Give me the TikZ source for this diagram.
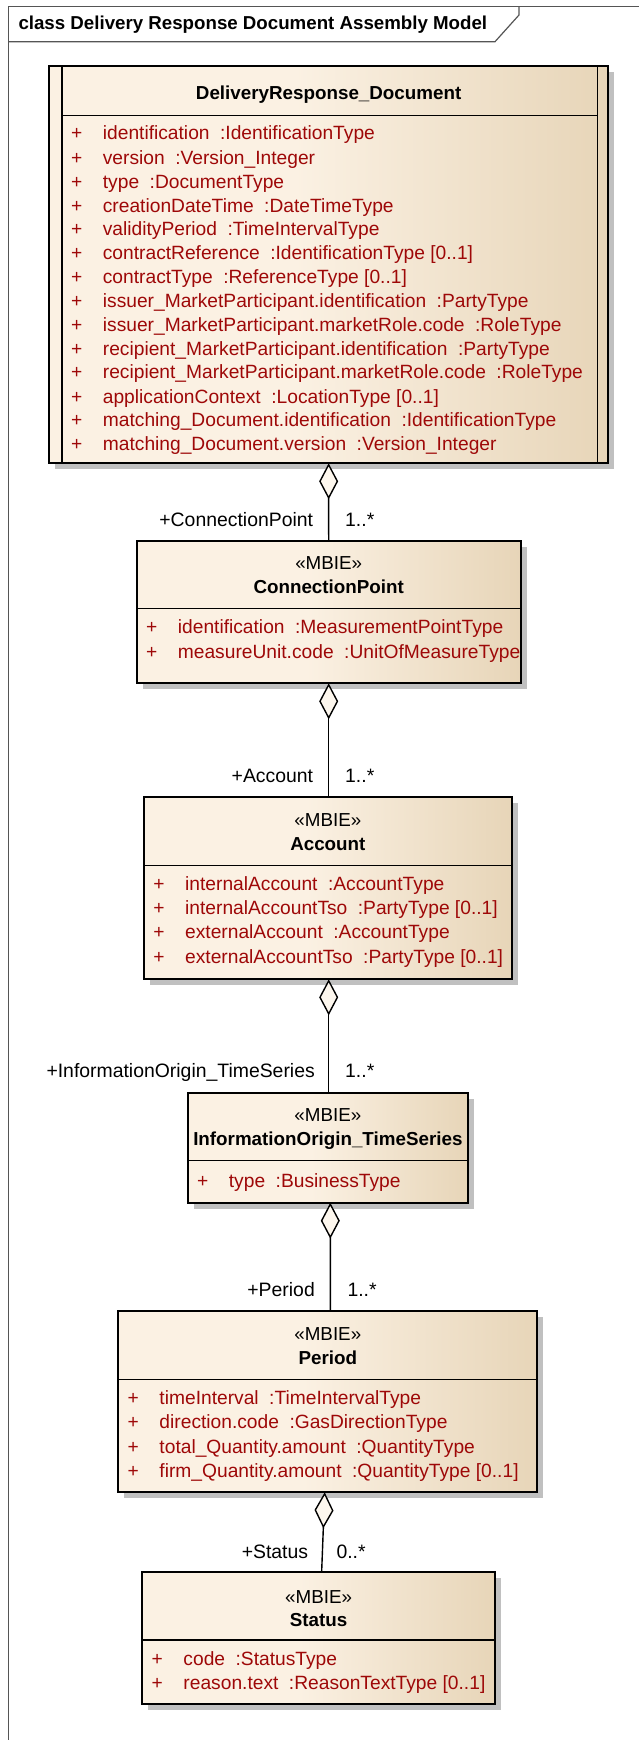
\documentclass[tikz,border=0pt]{standalone}
\usepackage{fontspec}
\setmainfont{Liberation Sans}
\usetikzlibrary{arrows.meta,shadows}

\definecolor{clsCream}{RGB}{251,241,227}
\definecolor{clsTan}{RGB}{231,213,184}
\definecolor{attrRed}{RGB}{158,8,8}
\definecolor{shadowGray}{RGB}{192,192,192}
\definecolor{frameGray}{RGB}{85,85,85}
\definecolor{diaFill}{RGB}{253,247,238}

\pgfdeclarehorizontalshading{classgrad}{100bp}{color(0bp)=(clsCream); color(25bp)=(clsCream); color(47bp)=(clsCream); color(75bp)=(clsTan); color(100bp)=(clsTan)}

\newcommand{\umlattr}[2]{\makebox[31.8pt][l]{+}#1\hspace{10.5pt}:#2}

\tikzset{
  classbox/.style={draw, line width=1.8pt, shade, shading=classgrad, anchor=north west, inner sep=0pt, outer sep=0pt,
    drop shadow={shadow xshift=6pt, shadow yshift=-6pt, fill=shadowGray, opacity=1}},
  boxline/.style={line width=1.6pt},
  sepline/.style={line width=1.3pt},
  txt/.style={font=\fontsize{18.8}{22}\selectfont, inner sep=0pt, text height=13.6pt, text depth=4pt},
  stereo/.style={txt},
  clsname/.style={txt, font=\fontsize{18.8}{22}\selectfont\bfseries},
  attr/.style={txt, font=\fontsize{19.2}{22}\selectfont, text=attrRed, anchor=west},
  rolelbl/.style={txt, font=\fontsize{19.4}{22}\selectfont, anchor=east},
  multlbl/.style={txt, font=\fontsize{19.4}{22}\selectfont, anchor=west},
  assoc/.style={line width=1.4pt, {Diamond[length=36pt, width=19pt, fill=diaFill]}-},
  framel/.style={draw=frameGray, line width=1.2pt}
}

\begin{document}
\begin{tikzpicture}[x=1pt, y=-1pt]
    \useasboundingbox (0,0) rectangle (639,1740);

    % diagram frame
    \draw[framel] (8.3,1745) -- (8.3,6.7) -- (645,6.7);
    \draw[framel] (8.3,41.7) -- (495,41.7) -- (519,15) -- (519,6.7);
    \node[txt, font=\fontsize{18.7}{22}\selectfont\bfseries, anchor=west] (title) at (18.3,25) {class Delivery Response Document Assembly Model};

    % DeliveryResponse_Document
    \node[classbox, minimum width=559.3pt, minimum height=397.6pt] (doc) at (49,65.7) {};
    \draw[boxline] ([xshift=12.7pt]doc.north west) -- ([xshift=12.7pt]doc.south west);
    \draw[boxline] ([xshift=-11pt]doc.north east) -- ([xshift=-11pt]doc.south east);
    \draw[sepline] (61.7,115.7) -- (597.3,115.7);
    \node[clsname] (docName) at (328.65,95) {DeliveryResponse\_Document};
    \node[attr] (doc1) at (70.9,135) {\umlattr{identification}{IdentificationType}};
    \node[attr] (doc2) at (70.9,159.3) {\umlattr{version}{Version\_Integer}};
    \node[attr] (doc3) at (70.9,183.3) {\umlattr{type}{DocumentType}};
    \node[attr] (doc4) at (70.9,207.3) {\umlattr{creationDateTime}{DateTimeType}};
    \node[attr] (doc5) at (70.9,230.7) {\umlattr{validityPeriod}{TimeIntervalType}};
    \node[attr] (doc6) at (70.9,254.3) {\umlattr{contractReference}{IdentificationType [0..1]}};
    \node[attr] (doc7) at (70.9,278.3) {\umlattr{contractType}{ReferenceType [0..1]}};
    \node[attr] (doc8) at (70.9,302.3) {\umlattr{issuer\_MarketParticipant.identification}{PartyType}};
    \node[attr] (doc9) at (70.9,326.3) {\umlattr{issuer\_MarketParticipant.marketRole.code}{RoleType}};
    \node[attr] (doc10) at (70.9,350.3) {\umlattr{recipient\_MarketParticipant.identification}{PartyType}};
    \node[attr] (doc11) at (70.9,374) {\umlattr{recipient\_MarketParticipant.marketRole.code}{RoleType}};
    \node[attr] (doc12) at (70.9,398.3) {\umlattr{applicationContext}{LocationType [0..1]}};
    \node[attr] (doc13) at (70.9,421.7) {\umlattr{matching\_Document.identification}{IdentificationType}};
    \node[attr] (doc14) at (70.9,445.7) {\umlattr{matching\_Document.version}{Version\_Integer}};

    % ConnectionPoint
    \node[classbox, minimum width=384pt, minimum height=142.6pt] (cp) at (136.7,540.7) {};
    \draw[sepline] (cp.west |- 0,608.3) -- (cp.east |- 0,608.3);
    \node[stereo] (cpSt) at (328.7,565) {«MBIE»};
    \node[clsname] (cpName) at (328.7,589) {ConnectionPoint};
    \node[attr] (cp1) at (145.9,629) {\umlattr{identification}{MeasurementPointType}};
    \node[attr] (cp2) at (145.9,653.3) {\umlattr{measureUnit.code}{UnitOfMeasureType}};

    % Account
    \node[classbox, minimum width=367.7pt, minimum height=182pt] (acc) at (144,797.3) {};
    \draw[sepline] (acc.west |- 0,865.7) -- (acc.east |- 0,865.7);
    \node[stereo] (accSt) at (327.85,821.7) {«MBIE»};
    \node[clsname] (accName) at (327.85,846) {Account};
    \node[attr] (acc1) at (153.2,886) {\umlattr{internalAccount}{AccountType}};
    \node[attr] (acc2) at (153.2,910) {\umlattr{internalAccountTso}{PartyType [0..1]}};
    \node[attr] (acc3) at (153.2,934) {\umlattr{externalAccount}{AccountType}};
    \node[attr] (acc4) at (153.2,958.3) {\umlattr{externalAccountTso}{PartyType [0..1]}};

    % InformationOrigin_TimeSeries
    \node[classbox, minimum width=280.3pt, minimum height=109.4pt] (ito) at (187.7,1093.3) {};
    \draw[sepline] (ito.west |- 0,1160.7) -- (ito.east |- 0,1160.7);
    \node[stereo] (itoSt) at (327.85,1116.7) {«MBIE»};
    \node[clsname] (itoName) at (327.85,1140.7) {InformationOrigin\_TimeSeries};
    \node[attr] (ito1) at (196.9,1182.3) {\umlattr{type}{BusinessType}};

    % Period
    \node[classbox, minimum width=419pt, minimum height=181.3pt] (per) at (118.3,1311) {};
    \draw[sepline] (per.west |- 0,1379.3) -- (per.east |- 0,1379.3);
    \node[stereo] (perSt) at (327.8,1336) {«MBIE»};
    \node[clsname] (perName) at (327.8,1359.3) {Period};
    \node[attr] (per1) at (127.5,1400) {\umlattr{timeInterval}{TimeIntervalType}};
    \node[attr] (per2) at (127.5,1424) {\umlattr{direction.code}{GasDirectionType}};
    \node[attr] (per3) at (127.5,1448.3) {\umlattr{total\_Quantity.amount}{QuantityType}};
    \node[attr] (per4) at (127.5,1472.3) {\umlattr{firm\_Quantity.amount}{QuantityType [0..1]}};

    % Status
    \node[classbox, minimum width=352.7pt, minimum height=132.3pt] (sts) at (142.3,1571.7) {};
    \draw[sepline] (sts.west |- 0,1640) -- (sts.east |- 0,1640);
    \node[stereo] (stsSt) at (318.65,1598.3) {«MBIE»};
    \node[clsname] (stsName) at (318.65,1621.7) {Status};
    \node[attr] (sts1) at (151.5,1660.7) {\umlattr{code}{StatusType}};
    \node[attr] (sts2) at (151.5,1685) {\umlattr{reason.text}{ReasonTextType [0..1]}};

    % aggregations
    \draw[assoc] (doc.south) -- (cp.north);
    \draw[assoc] (cp.south) -- (cp.south |- acc.north);
    \draw[assoc] ([xshift=0.85pt]acc.south) -- ([xshift=0.85pt]ito.north);
    \draw[assoc] ([xshift=2.45pt]ito.south) -- ([xshift=2.5pt]per.north);
    \draw[assoc] ([xshift=-3.1pt]per.south) -- ([xshift=3pt]sts.north);

    % role names and multiplicities
    \node[rolelbl] (cpRole) at (313.3,521.7) {+ConnectionPoint};
    \node[multlbl] (cpMult) at (345,521.7) {1..*};
    \node[rolelbl] (accRole) at (313.3,777.3) {+Account};
    \node[multlbl] (accMult) at (345,777.3) {1..*};
    \node[rolelbl] (itoRole) at (315,1072.7) {+InformationOrigin\_TimeSeries};
    \node[multlbl] (itoMult) at (345,1072.7) {1..*};
    \node[rolelbl] (perRole) at (315,1291.7) {+Period};
    \node[multlbl] (perMult) at (347.3,1291.7) {1..*};
    \node[rolelbl] (stsRole) at (308.3,1553.3) {+Status};
    \node[multlbl] (stsMult) at (336.3,1553.3) {0..*};
\end{tikzpicture}
\end{document}
